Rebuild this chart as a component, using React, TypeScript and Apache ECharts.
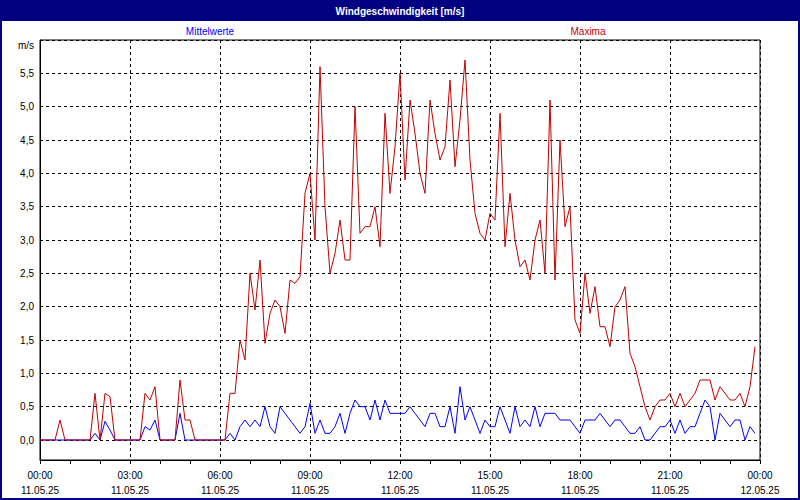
import React, { useEffect, useRef } from "react";
import * as echarts from "echarts";

// one sample every 10 minutes, starting 11.05.25 00:00
const SAMPLE_MINUTES = 10;
const startDate = "11.05.25";
const endDate = "12.05.25";
const xTickHours = [0, 3, 6, 9, 12, 15, 18, 21, 24];
const unitLabel = "m/s";
const seriesNames = ["Mittelwerte", "Maxima"];

const mittelwerte = [
  0, 0, 0, 0, 0, 0, 0, 0, 0, 0, 0, 0.1, 0, 0.28, 0.15, 0, 0, 0, 0, 0,
  0, 0.2, 0.15, 0.3, 0, 0, 0, 0, 0.4, 0, 0, 0, 0, 0, 0, 0, 0, 0, 0.1, 0,
  0.2, 0.3, 0.2, 0.3, 0.2, 0.5, 0.2, 0.1, 0.5, 0.4, 0.3, 0.2, 0.1, 0.2, 0.55, 0.1, 0.3, 0.1, 0.1, 0.2,
  0.4, 0.1, 0.4, 0.6, 0.5, 0.5, 0.3, 0.6, 0.3, 0.6, 0.4, 0.4, 0.4, 0.4, 0.5, 0.4, 0.3, 0.2, 0.4, 0.4,
  0.2, 0.2, 0.5, 0.1, 0.8, 0.3, 0.5, 0.3, 0.1, 0.3, 0.2, 0.2, 0.5, 0.3, 0.1, 0.5, 0.2, 0.3, 0.2, 0.5,
  0.2, 0.4, 0.4, 0.4, 0.3, 0.3, 0.3, 0.2, 0.1, 0.3, 0.3, 0.3, 0.4, 0.3, 0.2, 0.3, 0.3, 0.2, 0.1, 0.1,
  0.2, 0, 0, 0.1, 0.2, 0.2, 0.3, 0.1, 0.3, 0.1, 0.2, 0.2, 0.4, 0.6, 0.5, 0, 0.4, 0.3, 0.2, 0.3,
  0.3, 0, 0.2, 0.1,
];

const maxima = [
  0, 0, 0, 0, 0.3, 0, 0, 0, 0, 0, 0, 0.7, 0, 0.7, 0.65, 0, 0, 0, 0, 0,
  0, 0.7, 0.6, 0.8, 0, 0, 0, 0, 0.9, 0.3, 0.3, 0, 0, 0, 0, 0, 0, 0, 0.7, 0.7,
  1.5, 1.2, 2.5, 1.95, 2.7, 1.45, 1.9, 2.1, 2.0, 1.6, 2.4, 2.35, 2.45, 3.7, 4.0, 3.0, 5.6, 3.5, 2.5, 2.8,
  3.3, 2.7, 2.7, 5.0, 3.1, 3.2, 3.2, 3.5, 2.9, 4.9, 3.7, 4.4, 5.5, 3.9, 5.1, 4.6, 4.0, 3.7, 5.1, 4.6,
  4.2, 4.4, 5.4, 4.1, 4.8, 5.7, 4.2, 3.4, 3.1, 3.0, 3.4, 3.3, 4.9, 2.9, 3.7, 3.0, 2.6, 2.7, 2.4, 3.0,
  3.3, 2.5, 5.1, 2.4, 4.5, 3.2, 3.5, 1.8, 1.6, 2.5, 1.9, 2.3, 1.7, 1.7, 1.4, 2.0, 2.1, 2.3, 1.3, 1.1,
  0.8, 0.5, 0.3, 0.5, 0.6, 0.6, 0.7, 0.5, 0.7, 0.5, 0.6, 0.7, 0.9, 0.9, 0.9, 0.6, 0.8, 0.7, 0.6, 0.6,
  0.7, 0.5, 0.8, 1.4,
];

const FONT = '"Liberation Sans", Arial, sans-serif';
const NAVY = "#000080";
const BLUE = "#0000ff";
const RED = "#c00000";

const pad2 = (n: number) => (n < 10 ? "0" + n : "" + n);

export default function App() {
  const ref = useRef<HTMLDivElement>(null);

  useEffect(() => {
    document.body.style.margin = "0";
    const chart = echarts.init(ref.current as HTMLDivElement, null, { renderer: "svg" });
    const toPairs = (arr: number[]) => arr.map((v, i) => [(i * SAMPLE_MINUTES) / 60, v]);

    chart.setOption({
      animation: false,
      backgroundColor: "#ffffff",
      textStyle: { fontFamily: FONT },
      graphic: [
        { type: "rect", z: 0, shape: { x: 0, y: 0, width: 800, height: 21 }, style: { fill: NAVY } },
        {
          type: "rect",
          z: 100,
          shape: { x: 1, y: 1, width: 798, height: 498 },
          style: { fill: "none", stroke: NAVY, lineWidth: 2 },
        },
        {
          type: "text",
          z: 101,
          x: 400,
          y: 11,
          style: {
            text: "Windgeschwindigkeit [m/s]",
            fill: "#ffffff",
            font: `bold 10px ${FONT}`,
            align: "center",
            verticalAlign: "middle",
          },
        },
        {
          type: "text",
          x: 210,
          y: 31,
          style: { text: seriesNames[0], fill: BLUE, font: `10px ${FONT}`, align: "center", verticalAlign: "middle" },
        },
        {
          type: "text",
          x: 588,
          y: 31,
          style: { text: seriesNames[1], fill: RED, font: `10px ${FONT}`, align: "center", verticalAlign: "middle" },
        },
        {
          type: "text",
          x: 34,
          y: 45,
          style: { text: unitLabel, fill: "#000", font: `10px ${FONT}`, align: "right", verticalAlign: "middle" },
        },
      ],
      grid: {
        left: 40,
        right: 40,
        top: 40,
        bottom: 40,
        show: true,
        borderColor: "#000",
        borderWidth: 1,
        backgroundColor: "transparent",
      },
      xAxis: {
        type: "value",
        min: xTickHours[0],
        max: xTickHours[xTickHours.length - 1],
        interval: 3,
        axisLine: { show: true, onZero: false, lineStyle: { color: "#000", width: 1 } },
        axisTick: { show: true, length: 4, lineStyle: { color: "#000" } },
        minorTick: { show: true, splitNumber: 3, length: 4, lineStyle: { color: "#000" } },
        axisLabel: {
          color: "#000",
          fontSize: 10,
          fontFamily: FONT,
          lineHeight: 15,
          margin: 8,
          formatter: (v: number) => `${pad2(v % 24)}:00\n${v >= 24 ? endDate : startDate}`,
        },
        splitLine: { show: true, lineStyle: { color: "#000", type: [3, 3], width: 1 } },
      },
      yAxis: {
        type: "value",
        min: -0.3,
        max: 6,
        minInterval: 0.5,
        maxInterval: 0.5,
        splitNumber: 12,
        axisLine: { show: true, onZero: false, lineStyle: { color: "#000", width: 1 } },
        axisTick: { show: false },
        axisLabel: {
          color: "#000",
          fontSize: 10,
          fontFamily: FONT,
          margin: 6,
          formatter: (v: number) => (v < -1e-9 || v > 5.75 ? "" : v.toFixed(1).replace(".", ",")),
        },
        splitLine: { show: true, lineStyle: { color: "#000", type: [3, 3], width: 1 } },
      },
      series: [
        {
          name: seriesNames[0],
          type: "line",
          data: toPairs(mittelwerte),
          showSymbol: false,
          lineStyle: { color: BLUE, width: 1 },
          itemStyle: { color: BLUE },
        },
        {
          name: seriesNames[1],
          type: "line",
          data: toPairs(maxima),
          showSymbol: false,
          lineStyle: { color: RED, width: 1 },
          itemStyle: { color: RED },
        },
      ],
    });

    return () => chart.dispose();
  }, []);

  return <div ref={ref} style={{ position: "fixed", left: 0, top: 0, width: 800, height: 500 }} />;
}
